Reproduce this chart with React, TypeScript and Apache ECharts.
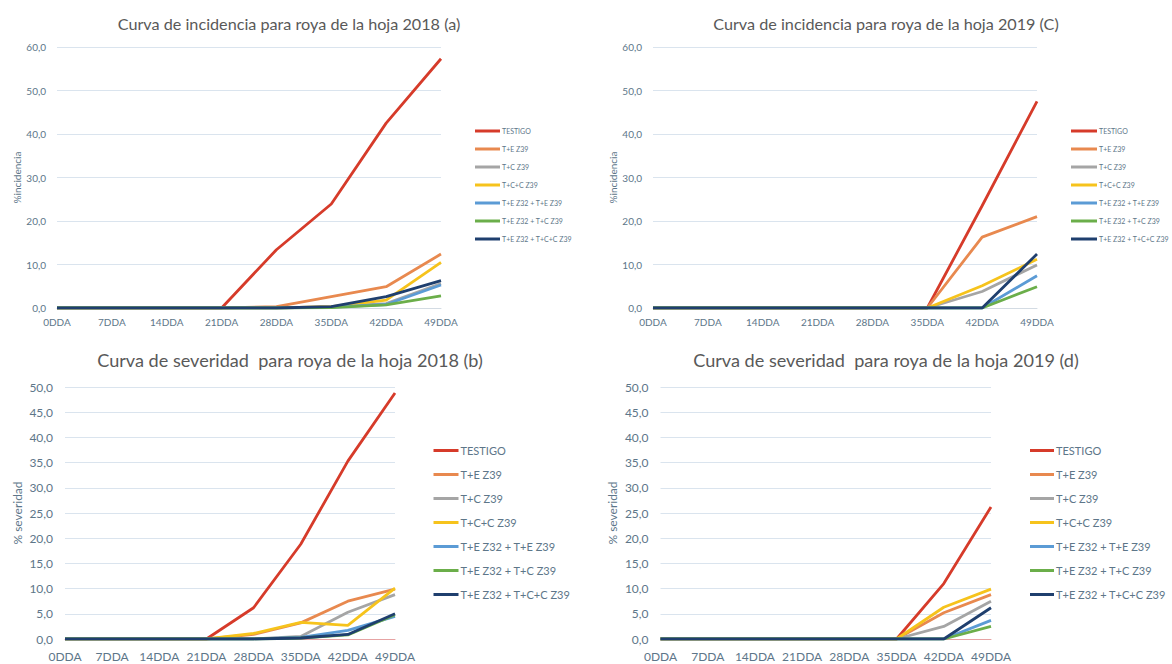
import React, { useEffect, useRef } from "react";
import * as echarts from "echarts";

const CATEGORIES = ["0DDA", "7DDA", "14DDA", "21DDA", "28DDA", "35DDA", "42DDA", "49DDA"];
const SERIES_NAMES = [
  "TESTIGO",
  "T+E Z39",
  "T+C Z39",
  "T+C+C Z39",
  "T+E Z32 + T+E Z39",
  "T+E Z32 + T+C Z39",
  "T+E Z32 + T+C+C Z39",
];

// % incidencia 2018 (a)
const INCIDENCIA_2018 = [
  [0, 0, 0, 0, 13.4, 23.9, 42.5, 57.3],
  [0, 0, 0, 0, 0.3, 2.6, 4.9, 12.4],
  [0, 0, 0, 0, 0, 0.3, 1.0, 5.6],
  [0, 0, 0, 0, 0, 0.3, 1.8, 10.5],
  [0, 0, 0, 0, 0, 0.2, 0.8, 5.3],
  [0, 0, 0, 0, 0, 0.1, 0.7, 2.8],
  [0, 0, 0, 0, 0, 0.3, 2.6, 6.3],
];

// % incidencia 2019 (c)
const INCIDENCIA_2019 = [
  [0, 0, 0, 0, 0, 0, 23.5, 47.5],
  [0, 0, 0, 0, 0, 0, 16.3, 21.0],
  [0, 0, 0, 0, 0, 0, 3.8, 9.9],
  [0, 0, 0, 0, 0, 0, 5.1, 11.2],
  [0, 0, 0, 0, 0, 0, 0, 7.4],
  [0, 0, 0, 0, 0, 0, 0, 4.9],
  [0, 0, 0, 0, 0, 0, 0, 12.4],
];

// % severidad 2018 (b)
const SEVERIDAD_2018 = [
  [0, 0, 0, 0, 6.2, 18.8, 35.3, 48.8],
  [0, 0, 0, 0, 0.9, 3.2, 7.5, 9.9],
  [0, 0, 0, 0, 0, 0.5, 5.3, 8.8],
  [0, 0, 0, 0, 1.1, 3.3, 2.7, 10.1],
  [0, 0, 0, 0, 0, 0.3, 1.7, 4.5],
  [0, 0, 0, 0, 0, 0.2, 0.8, 4.8],
  [0, 0, 0, 0, 0, 0.2, 0.9, 5.0],
];

// % severidad 2019 (d)
const SEVERIDAD_2019 = [
  [0, 0, 0, 0, 0, 0, 11.0, 26.2],
  [0, 0, 0, 0, 0, 0, 5.2, 8.8],
  [0, 0, 0, 0, 0, 0, 2.5, 7.5],
  [0, 0, 0, 0, 0, 0, 6.3, 9.9],
  [0, 0, 0, 0, 0, 0, 0, 3.7],
  [0, 0, 0, 0, 0, 0, 0, 2.5],
  [0, 0, 0, 0, 0, 0, 0, 6.2],
];

const TITLES = [
  "Curva de incidencia para roya de la hoja 2018 (a)",
  "Curva de incidencia para roya de la hoja 2019 (C)",
  "Curva de severidad  para roya de la hoja 2018 (b)",
  "Curva de severidad  para roya de la hoja 2019 (d)",
];
const Y_NAMES = ["%incidencia", "%incidencia", "% severidad", "% severidad"];
const Y_MAX = [60, 60, 50, 50];
const Y_INTERVAL = [10, 10, 5, 5];

const COLORS = ["#D63B2A", "#E8894F", "#A5A5A5", "#F6C31C", "#5B9BD5", "#6BAE4A", "#1F3F6E"];
const FONT = "Lato, 'Open Sans', sans-serif";
const TEXT_COLOR = "#5d7689";

const PANELS = [
  { data: INCIDENCIA_2018, grid: { left: 57, top: 47, width: 384, height: 261 }, title: [289, 23, 16.2], legend: [475, 126.5, 25, 7, 9, 9], ySize: 10, xSize: 10, yMargin: 11, xMargin: 9, nameGap: 35, nameSize: 10, axisColor: "#d3dbe3" },
  { data: INCIDENCIA_2019, grid: { left: 653, top: 47, width: 384, height: 261 }, title: [886, 23, 16.2], legend: [1071, 126.5, 26, 7, 9, 9], ySize: 10, xSize: 10, yMargin: 11, xMargin: 9, nameGap: 35, nameSize: 10, axisColor: "#d3dbe3" },
  { data: SEVERIDAD_2018, grid: { left: 65, top: 387, width: 330, height: 252 }, title: [290, 360, 18.1], legend: [433.5, 444, 25, 11, 13, 11], ySize: 12, xSize: 12, yMargin: 12, xMargin: 11, nameGap: 42, nameSize: 12, axisColor: "#e6a3a3" },
  { data: SEVERIDAD_2019, grid: { left: 660.5, top: 387, width: 330.5, height: 252 }, title: [886, 360, 18.1], legend: [1030, 444, 24, 11, 13, 11], ySize: 12, xSize: 12, yMargin: 12, xMargin: 11, nameGap: 42, nameSize: 12, axisColor: "#e6a3a3" },
];

function fmt(v: number) {
  return v.toFixed(1).replace(".", ",");
}

export default function App() {
  const ref = useRef<HTMLDivElement>(null);
  useEffect(() => {
    document.body.style.margin = "0";
    if (!ref.current) return;
    const chart = echarts.init(ref.current, null, { renderer: "svg" });
    const grid: any[] = [];
    const xAxis: any[] = [];
    const yAxis: any[] = [];
    const legend: any[] = [];
    const series: any[] = [];
    const graphic: any[] = [];
    PANELS.forEach((p, i) => {
      grid.push({ ...p.grid, containLabel: false });
      xAxis.push({
        type: "category",
        gridIndex: i,
        data: CATEGORIES,
        boundaryGap: false,
        axisTick: { show: false },
        axisLine: { show: true, lineStyle: { color: p.axisColor, width: 1 } },
        axisLabel: { color: TEXT_COLOR, fontSize: p.xSize, fontFamily: FONT, margin: p.xMargin, interval: 0 },
        splitLine: { show: false },
      });
      yAxis.push({
        type: "value",
        gridIndex: i,
        min: 0,
        max: Y_MAX[i],
        interval: Y_INTERVAL[i],
        name: Y_NAMES[i],
        nameLocation: "middle",
        nameGap: p.nameGap,
        nameTextStyle: { color: TEXT_COLOR, fontSize: p.nameSize, fontFamily: FONT },
        axisLine: { show: false },
        axisTick: { show: false },
        axisLabel: { color: TEXT_COLOR, fontSize: p.ySize, fontFamily: FONT, margin: p.yMargin, formatter: fmt },
        splitLine: { show: true, lineStyle: { color: "#dae4ee", width: 1 } },
      });
      const [lx, ly, lw, lf, lh, lgap] = p.legend;
      legend.push({
        orient: "vertical",
        left: lx,
        top: ly,
        padding: 0,
        itemGap: lgap,
        itemWidth: lw,
        itemHeight: 3,
        icon: "rect",
        data: SERIES_NAMES,
        textStyle: { color: TEXT_COLOR, fontSize: lf, lineHeight: lh, fontFamily: FONT, padding: [0, 0, 0, -3] },
        selectedMode: false,
      });
      p.data.forEach((row, k) => {
        series.push({
          type: "line",
          name: SERIES_NAMES[k],
          xAxisIndex: i,
          yAxisIndex: i,
          data: row,
          symbol: "none",
          lineStyle: { color: COLORS[k], width: 2.8 },
          itemStyle: { color: COLORS[k] },
          z: 2 + k,
        });
      });
      const [tx, ty, ts] = p.title;
      graphic.push({
        type: "text",
        x: tx,
        y: ty,
        style: {
          text: TITLES[i],
          x: 0,
          y: 0,
          textAlign: "center",
          textVerticalAlign: "middle",
          font: `${ts}px ${FONT}`,
          fill: "#595959",
        },
      });
    });
    chart.setOption({
      animation: false,
      backgroundColor: "#ffffff",
      grid,
      xAxis,
      yAxis,
      legend,
      series,
      graphic,
    });
    return () => chart.dispose();
  }, []);
  return <div ref={ref} style={{ position: "absolute", left: 0, top: 0, width: 1172, height: 664 }} />;
}
